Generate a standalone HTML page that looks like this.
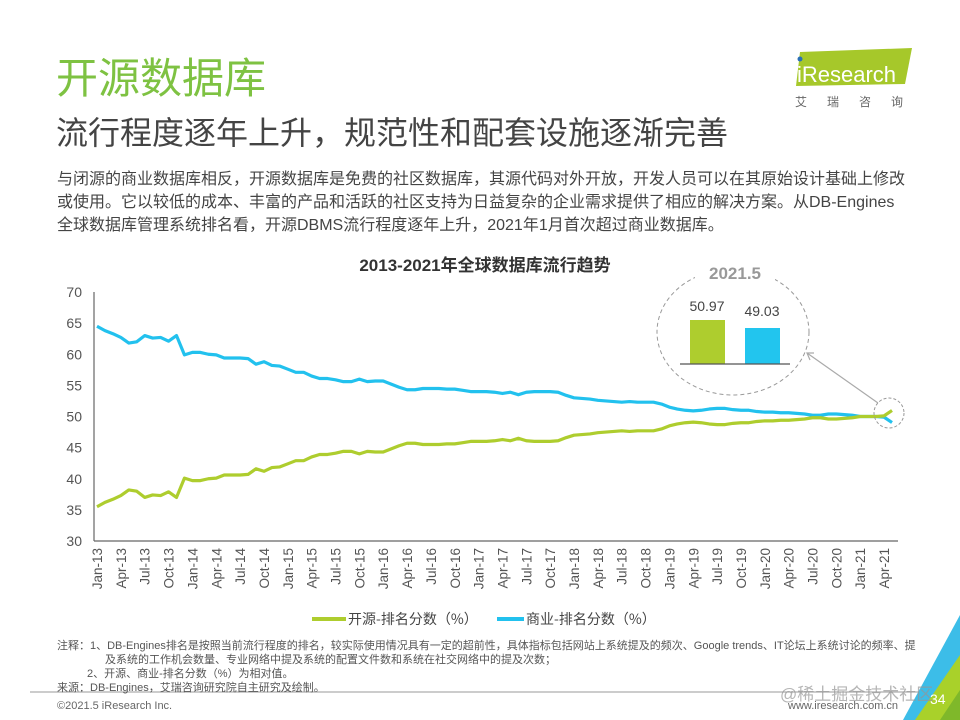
<!DOCTYPE html>
<html><head><meta charset="utf-8">
<style>
body{margin:0;width:960px;height:720px;overflow:hidden;background:#fff;font-family:"Liberation Sans","Noto Sans CJK SC",sans-serif;position:relative}
.a{position:absolute;white-space:nowrap}
</style></head><body>
<div class="a" style="left:56px;top:54px;font-size:42px;color:#7ec242;line-height:50px">开源数据库</div>
<div class="a" style="left:56px;top:113px;font-size:32px;color:#444;line-height:40px">流行程度逐年上升，规范性和配套设施逐渐完善</div>
<div class="a" style="left:57px;top:168px;font-size:16px;color:#444;line-height:23px">与闭源的商业数据库相反，开源数据库是免费的社区数据库，其源代码对外开放，开发人员可以在其原始设计基础上修改<br>或使用。它以较低的成本、丰富的产品和活跃的社区支持为日益复杂的企业需求提供了相应的解决方案。从DB-Engines<br>全球数据库管理系统排名看，开源DBMS流行程度逐年上升，2021年1月首次超过商业数据库。</div>

<svg class="a" style="left:0;top:0" width="960" height="720" id="s">
<polygon points="800,52 912,48 905,84 796,86" fill="#a6c82a"/>
<circle cx="800" cy="59" r="2.5" fill="#2a6fb6"/>
<text x="797" y="82" font-size="22" fill="#fff" font-family="Liberation Sans,sans-serif">iResearch</text>
<text x="795" y="106" font-size="12" fill="#666" letter-spacing="20" font-family="Noto Sans CJK SC,sans-serif">艾瑞咨询</text>
<text x="485" y="271" font-size="17" font-weight="bold" fill="#333" text-anchor="middle" font-family="Liberation Sans,Noto Sans CJK SC,sans-serif">2013-2021年全球数据库流行趋势</text>
<g id="ax" font-size="14" fill="#555" font-family="Liberation Sans,sans-serif"></g>
<line x1="94" y1="292" x2="94" y2="541" stroke="#666" stroke-width="1.2"/>
<line x1="94" y1="541" x2="898" y2="541" stroke="#666" stroke-width="1.2"/>
<polyline id="pb" fill="none" stroke="#22c1ee" stroke-width="3.2" stroke-linejoin="round"/>
<polyline id="pg" fill="none" stroke="#aecd2e" stroke-width="3.2" stroke-linejoin="round"/>
<ellipse cx="733" cy="332" rx="76" ry="63" fill="none" stroke="#999" stroke-dasharray="4,3"/>
<rect x="695" y="262" width="80" height="22" fill="#fff"/>
<text x="735" y="279" font-size="17" font-weight="bold" fill="#999" text-anchor="middle">2021.5</text>
<rect x="690" y="320" width="35" height="44" fill="#aecd2e"/>
<rect x="745" y="328" width="35" height="36" fill="#22c5ee"/>
<line x1="680" y1="364" x2="790" y2="364" stroke="#555" stroke-width="1.2"/>
<text x="707" y="311" font-size="14" fill="#444" text-anchor="middle">50.97</text>
<text x="762" y="316" font-size="14" fill="#444" text-anchor="middle">49.03</text>
<circle cx="889" cy="413" r="15" fill="none" stroke="#999" stroke-dasharray="3,2"/>
<line x1="878" y1="403" x2="807" y2="353" stroke="#aaa" stroke-width="1.2"/>
<polyline points="814,353 807,353 810,360" fill="none" stroke="#aaa" stroke-width="1.2"/>
<line x1="312" y1="619" x2="346" y2="619" stroke="#aecd2e" stroke-width="4"/>
<text x="348" y="624" font-size="14" fill="#444" font-family="Noto Sans CJK SC,sans-serif">开源-排名分数（%）</text>
<line x1="497" y1="619" x2="524" y2="619" stroke="#22c1ee" stroke-width="4"/>
<text x="526" y="624" font-size="14" fill="#444" font-family="Noto Sans CJK SC,sans-serif">商业-排名分数（%）</text>
<line x1="30" y1="692" x2="930" y2="692" stroke="#999" stroke-width="1"/>
<polygon points="960,615 960,720 903,720" fill="#3cbde8"/>
<polygon points="960,655 960,720 915,720" fill="#a9d12a"/>
<polygon points="960,690 960,720 940,720" fill="#7fb82a"/>
<text x="930" y="704" font-size="14" fill="#fff">34</text>
</svg>

<div class="a" style="left:57px;top:639px;font-size:11px;color:#555;line-height:14px">注释：1、DB-Engines排名是按照当前流行程度的排名，较实际使用情况具有一定的超前性，具体指标包括网站上系统提及的频次、Google trends、IT论坛上系统讨论的频率、提<br><span style="padding-left:48px">及系统的工作机会数量、专业网络中提及系统的配置文件数和系统在社交网络中的提及次数；</span><br><span style="padding-left:30px">2、开源、商业-排名分数（%）为相对值。</span><br>来源：DB-Engines，艾瑞咨询研究院自主研究及绘制。</div>
<div class="a" style="left:57px;top:700px;font-size:11px;color:#666">©2021.5 iResearch Inc.</div>
<div class="a" style="left:788px;top:700px;font-size:11px;color:#666">www.iresearch.com.cn</div>
<div class="a" style="left:780px;top:680px;font-size:17px;color:rgba(150,150,150,0.7)">@稀土掘金技术社区</div>

<script>
var b=[64.5,63.8,63.3,62.7,61.8,62.0,63.0,62.6,62.7,62.1,63.0,59.9,
60.3,60.3,60.0,59.9,59.4,59.4,59.4,59.3,58.4,58.8,58.2,58.1,
57.6,57.1,57.1,56.5,56.1,56.1,55.9,55.6,55.6,56.0,55.6,55.7,
55.7,55.2,54.7,54.3,54.3,54.5,54.5,54.5,54.4,54.4,54.2,54.0,
54.0,54.0,53.9,53.7,53.9,53.5,53.9,54.0,54.0,54.0,53.9,53.4,
53.0,52.9,52.8,52.6,52.5,52.4,52.3,52.4,52.3,52.3,52.3,52.0,
51.5,51.2,51.0,50.9,51.0,51.2,51.3,51.3,51.1,51.0,51.0,50.8,
50.7,50.7,50.6,50.6,50.5,50.4,50.2,50.2,50.4,50.4,50.3,50.2,
50.0,50.0,50.0,49.9,49.03];
function X(i){return 97+i*7.95}function Y(v){return 541-(v-30)*6.225}
var pb=[],pg=[];
for(var i=0;i<b.length;i++){pb.push(X(i)+','+Y(b[i]));pg.push(X(i)+','+Y(100-b[i]));}
document.getElementById('pb').setAttribute('points',pb.join(' '));
document.getElementById('pg').setAttribute('points',pg.join(' '));
var ax=document.getElementById('ax'),h='';
for(var v=30;v<=70;v+=5)h+='<text x="82" y="'+(Y(v)+5)+'" text-anchor="end">'+v+'</text>';
var m=['Jan','Apr','Jul','Oct'];
for(var i=0;i<=99;i+=3){var yr=13+Math.floor(i/12);var lab=m[(i%12)/3]+'-'+yr;var x=X(i)+5;
h+='<text transform="translate('+x+',548) rotate(-90)" text-anchor="end" font-size="13.5">'+lab+'</text>';}
ax.innerHTML=h;
</script>
</body></html>
